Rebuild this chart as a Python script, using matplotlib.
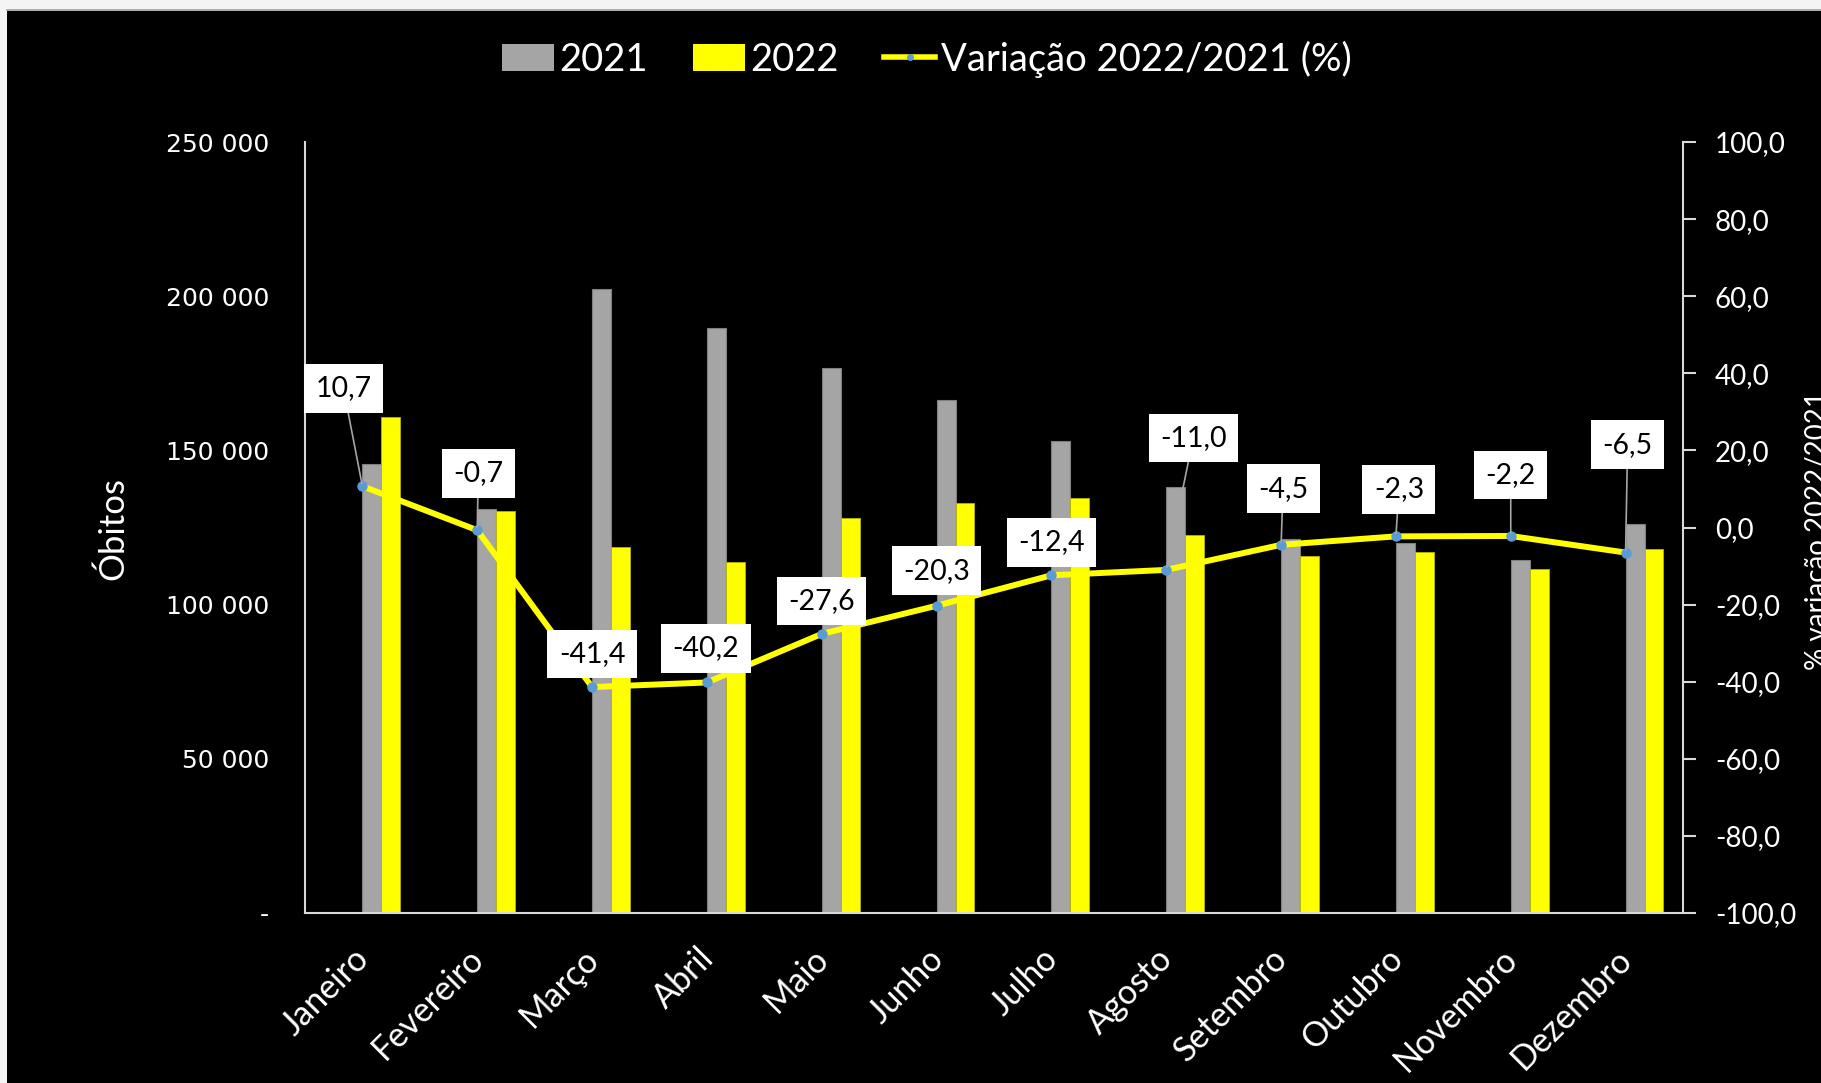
import numpy as np
import matplotlib.pyplot as plt
import matplotlib.transforms as mtransforms
from matplotlib.patches import Rectangle, Patch
from matplotlib.lines import Line2D
from matplotlib.ticker import FuncFormatter, MultipleLocator

plt.rcParams['font.family'] = ['Lato', 'DejaVu Sans']

meses = ['Janeiro', 'Fevereiro', 'Março', 'Abril', 'Maio', 'Junho', 'Julho',
         'Agosto', 'Setembro', 'Outubro', 'Novembro', 'Dezembro']
obitos_2021 = [145500, 131000, 202300, 189800, 176700, 166300,
               153200, 138000, 121400, 120000, 114400, 126200]
obitos_2022 = [160800, 130400, 118600, 113800, 128200, 133100,
               134500, 122700, 115900, 117200, 111700, 117900]
variacao = [10.7, -0.7, -41.4, -40.2, -27.6, -20.3,
            -12.4, -11.0, -4.5, -2.3, -2.2, -6.5]

# deslocamento dos rotulos (pixels) em relacao ao ponto da linha
offsets = [(-19, 98), (1, 57), (0, 33), (-1, 34), (0, 33), (0, 35),
           (0, 33), (27, 132), (2, 56), (3, 47), (0, 61), (2, 108)]

cinza = '#a5a5a5'
amarelo = '#ffff00'
azul = '#5b9bd5'
eixo = '#d9d9d9'

fig = plt.figure(figsize=(18.21, 10.83), dpi=100, facecolor='#f4f4f4')
# fundo preto (a imagem original tem uma faixa clara em cima e a esquerda)
fig.patches.append(Rectangle((7 / 1821, 0), 1, 1 - 11 / 1083, transform=fig.transFigure,
                             facecolor='black', edgecolor='none', zorder=-10))
fig.lines.append(Line2D([7 / 1821, 1], [1 - 10 / 1083] * 2, transform=fig.transFigure,
                        color='#a0a0a0', lw=1.2, zorder=-9))

ax = fig.add_axes([305 / 1821, 1 - 913 / 1083, 1378 / 1821, 771 / 1083])
ax.set_facecolor('none')

x = np.arange(len(meses))
w = 0.165
ax.bar(x + w / 2, obitos_2021, width=w, color=cinza, edgecolor='#7f7f7f', linewidth=0.8, zorder=2)
ax.bar(x + 1.5 * w, obitos_2022, width=w, color=amarelo, edgecolor='#b5b500', linewidth=0.6, zorder=2)

ax.set_xlim(-0.5, len(meses) - 0.5)
ax.set_ylim(0, 250000)
ax.yaxis.set_major_locator(MultipleLocator(50000))
ax.yaxis.set_major_formatter(FuncFormatter(
    lambda v, p: '-' if v == 0 else f"{int(v):,}".replace(',', ' ')))
ax.tick_params(axis='y', length=0, pad=26, labelsize=18, labelcolor='white')
for lb in ax.get_yticklabels():
    lb.set_fontfamily('DejaVu Sans')

ax.set_xticks(x)
ax.set_xticklabels(meses, rotation=45, ha='right', va='top', rotation_mode='anchor',
                   fontsize=24.5, color='white')
ax.tick_params(axis='x', length=0, pad=21)
off = mtransforms.ScaledTranslation(-7 / 72, 0, fig.dpi_scale_trans)
for lb in ax.get_xticklabels():
    lb.set_transform(lb.get_transform() + off)

for s in ['top', 'right']:
    ax.spines[s].set_visible(False)
for s in ['left', 'bottom']:
    ax.spines[s].set_color(eixo)
    ax.spines[s].set_linewidth(1.5)

ax2 = ax.twinx()
ax2.set_ylim(-100, 100)
ax2.yaxis.set_major_locator(MultipleLocator(20))
ax2.yaxis.set_major_formatter(FuncFormatter(lambda v, p: f"{v:.1f}".replace('.', ',')))
ax2.tick_params(axis='y', length=9, width=1.5, color=eixo, pad=14, labelsize=20, labelcolor='white')
for s in ['top', 'left', 'bottom']:
    ax2.spines[s].set_visible(False)
ax2.spines['right'].set_color(eixo)
ax2.spines['right'].set_linewidth(1.5)

ax2.plot(x, variacao, color=amarelo, lw=4.3, zorder=3,
         marker='o', markersize=6.5, markerfacecolor=azul, markeredgecolor=azul)

for xi, v, (dx, dy) in zip(x, variacao, offsets):
    seta = None
    if dy > 45:
        seta = dict(arrowstyle='-', color='#a6a6a6', lw=1.2, shrinkA=0, shrinkB=2)
    ax2.annotate(f"{v:.1f}".replace('.', ','), (xi, v), xytext=(dx, dy),
                 textcoords='offset pixels', ha='center', va='center',
                 fontsize=20.5, color='black', zorder=5, arrowprops=seta,
                 bbox=dict(boxstyle='square,pad=0.4', facecolor='white', edgecolor='none'))

fig.text(113 / 1821, 1 - 528 / 1083, 'Óbitos', rotation=90, ha='center', va='center',
         fontsize=25, color='white')
fig.text(1805 / 1821, 1 - 531 / 1083, '% variação 2022/2021', rotation=90,
         ha='left', va='center', fontsize=20, color='white')

handles = [Patch(facecolor=cinza, edgecolor='none'),
           Patch(facecolor=amarelo, edgecolor='none'),
           Line2D([], [], color=amarelo, lw=4, marker='o', markersize=4,
                  markerfacecolor=azul, markeredgecolor=azul)]
fig.legend(handles, ['2021', '2022', 'Variação 2022/2021 (%)'], loc='center',
           bbox_to_anchor=(927 / 1821, 1 - 59 / 1083), ncol=3, frameon=False,
           fontsize=27.5, labelcolor='white', handlelength=1.35, handleheight=0.7,
           handletextpad=0.15, columnspacing=1.18)

fig.savefig('out.png', dpi=100, facecolor=fig.get_facecolor())
